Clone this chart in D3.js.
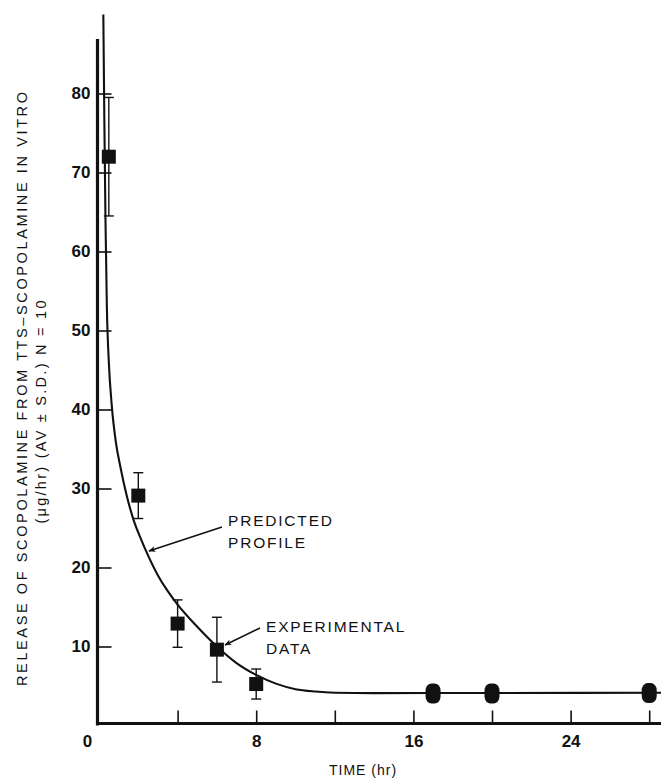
<!DOCTYPE html>
<html>
<head>
<meta charset="utf-8">
<script src="https://cdn.jsdelivr.net/npm/d3@7"></script>
<style>
  html, body { margin: 0; padding: 0; background: #fff; }
  svg { display: block; }
  text { font-family: "Liberation Sans", Arial, Helvetica, sans-serif; fill: #111; }
</style>
</head>
<body>
<svg id="chart" width="661" height="778"></svg>
<script>
// ---- data ----
const times = [0.5, 2, 4, 6, 8, 17, 20, 28];           // hr
const means = [72, 29.1, 12.9, 9.6, 5.25, 4.05, 4.05, 4.1]; // µg/hr
const sds   = [7.5, 2.9, 3.0, 4.1, 1.9, 1.0, 0.6, 0.6];

// predicted profile, points
const curveT = [0.22, 0.27, 0.33, 0.40, 0.50, 0.65, 0.85, 1.1, 1.4, 1.75, 2.1, 2.5, 3.0, 3.5, 4.0, 5.0, 6.0, 7.0, 8.0, 9.0, 10.0, 11.0, 12.0, 14.0, 20, 28.65];
const curveV = [90, 77, 64, 53, 46, 40.5, 36, 32.6, 29.2, 26.1, 23.8, 21.5, 19.0, 17.0, 15.3, 12.5, 10.0, 7.9, 6.4, 5.3, 4.6, 4.3, 4.15, 4.1, 4.12, 4.15];

const yTicks = [10, 20, 30, 40, 50, 60, 70, 80];
const xTicks = [4, 8, 12, 16, 20, 24, 28];
const xTickLabels = [0, 8, 16, 24];

const yTitle1 = "RELEASE OF SCOPOLAMINE FROM TTS\u2013SCOPOLAMINE  IN VITRO";
const yTitle2 = "(\u03bcg/hr) (AV \u00b1 S.D.) N = 10";
const xTitle = "TIME (hr)";

// ---- scales ----
const svg = d3.select("#chart");
const x = d3.scaleLinear().domain([0, 28.6]).range([99, 661]);
const y = d3.scaleLinear().domain([0, 80]).range([725.5, 93.5]);
const yAxisTopValue = 86.9;

// arrow marker
svg.append("defs").append("marker")
  .attr("id", "arrow").attr("viewBox", "0 0 10 10")
  .attr("refX", 9).attr("refY", 5)
  .attr("markerWidth", 9).attr("markerHeight", 7)
  .attr("markerUnits", "userSpaceOnUse")
  .attr("orient", "auto")
  .append("path").attr("d", "M0,1 L10,5 L0,9 L2.5,5 Z").attr("fill", "#111");

// ---- axes ----
const gy = svg.append("g").attr("transform", `translate(${x(0) - 1.5},0)`)
  .call(d3.axisLeft(y).tickValues(yTicks).tickSizeInner(-14).tickSizeOuter(0).tickPadding(7));
gy.select(".domain").remove();
gy.selectAll(".tick line").attr("stroke", "#111").attr("stroke-width", 1.6);
gy.selectAll(".tick text").style("font-size", "17px").style("font-weight", "bold").attr("fill", "#111");

const gx = svg.append("g").attr("transform", `translate(0,${y(0) - 2})`)
  .call(d3.axisBottom(x).tickValues(xTicks).tickSizeInner(-13).tickSizeOuter(0).tickFormat(""));
gx.select(".domain").remove();
gx.selectAll(".tick line").attr("stroke", "#111").attr("stroke-width", 1.6);

const gxl = svg.append("g").attr("transform", `translate(0,${y(0) - 2})`)
  .call(d3.axisBottom(x).tickValues(xTickLabels).tickSize(0).tickPadding(11).tickFormat(d3.format("d")));
gxl.select(".domain").remove();
gxl.selectAll(".tick text").style("font-size", "17px").style("font-weight", "bold").attr("fill", "#111")
  .attr("dx", d => d === 0 ? -12 : 0);

svg.append("line")
  .attr("x1", x(0) - 1.5).attr("x2", x(0) - 1.5)
  .attr("y1", y(yAxisTopValue)).attr("y2", y(0))
  .attr("stroke", "#111").attr("stroke-width", 3.2);
svg.append("line")
  .attr("x1", x(0) - 3).attr("x2", x.range()[1])
  .attr("y1", y(0) - 2).attr("y2", y(0) - 2)
  .attr("stroke", "#111").attr("stroke-width", 3.2);

// ---- predicted profile ----
const line = d3.line().x(d => x(d[0])).y(d => y(d[1])).curve(d3.curveMonotoneX);
svg.append("path")
  .datum(d3.zip(curveT, curveV))
  .attr("d", line)
  .attr("fill", "none").attr("stroke", "#111").attr("stroke-width", 2.1);

// ---- experimental data with error bars ----
const pts = times.map((t, i) => ({ t, m: means[i], s: sds[i] }));
const gPts = svg.append("g");
pts.forEach(p => {
  const cx = x(p.t);
  gPts.append("line").attr("x1", cx).attr("x2", cx)
    .attr("y1", y(p.m + p.s)).attr("y2", y(p.m - p.s))
    .attr("stroke", "#111").attr("stroke-width", 1.4);
  [p.m + p.s, p.m - p.s].forEach(v => {
    gPts.append("line").attr("x1", cx - 5).attr("x2", cx + 5)
      .attr("y1", y(v)).attr("y2", y(v))
      .attr("stroke", "#111").attr("stroke-width", 1.4);
  });
  if (p.t > 12) {
    gPts.append("rect").attr("x", cx - 7.5).attr("y", y(p.m) - 10)
      .attr("width", 15).attr("height", 20).attr("rx", 6).attr("ry", 7)
      .attr("fill", "#111");
  } else {
    gPts.append("rect").attr("x", cx - 7).attr("y", y(p.m) - 7)
      .attr("width", 14).attr("height", 14).attr("fill", "#111");
  }
});

// ---- annotations ----
const ann = svg.append("g").style("font-size", "15.5px").style("letter-spacing", "1.8px");
ann.append("text").attr("x", 228).attr("y", 526).text("PREDICTED");
ann.append("text").attr("x", 228).attr("y", 548).text("PROFILE");
ann.append("text").attr("x", 266).attr("y", 632).text("EXPERIMENTAL");
ann.append("text").attr("x", 266).attr("y", 654).text("DATA");
svg.append("line").attr("x1", 222).attr("y1", 527).attr("x2", 149).attr("y2", 551)
  .attr("stroke", "#111").attr("stroke-width", 1.5).attr("marker-end", "url(#arrow)");
svg.append("line").attr("x1", 260).attr("y1", 628).attr("x2", 225).attr("y2", 645)
  .attr("stroke", "#111").attr("stroke-width", 1.5).attr("marker-end", "url(#arrow)");

// ---- axis titles ----
svg.append("text")
  .attr("transform", "translate(27,389) rotate(-90)")
  .attr("text-anchor", "middle")
  .attr("textLength", 594).attr("lengthAdjust", "spacing")
  .style("font-size", "14.5px")
  .text(yTitle1);
svg.append("text")
  .attr("transform", "translate(46,412) rotate(-90)")
  .attr("text-anchor", "middle")
  .attr("textLength", 223).attr("lengthAdjust", "spacing")
  .style("font-size", "14.5px")
  .text(yTitle2);
svg.append("text")
  .attr("x", 363).attr("y", 775)
  .attr("text-anchor", "middle")
  .style("font-size", "14px").style("letter-spacing", "1px")
  .text(xTitle);
</script>
</body>
</html>
